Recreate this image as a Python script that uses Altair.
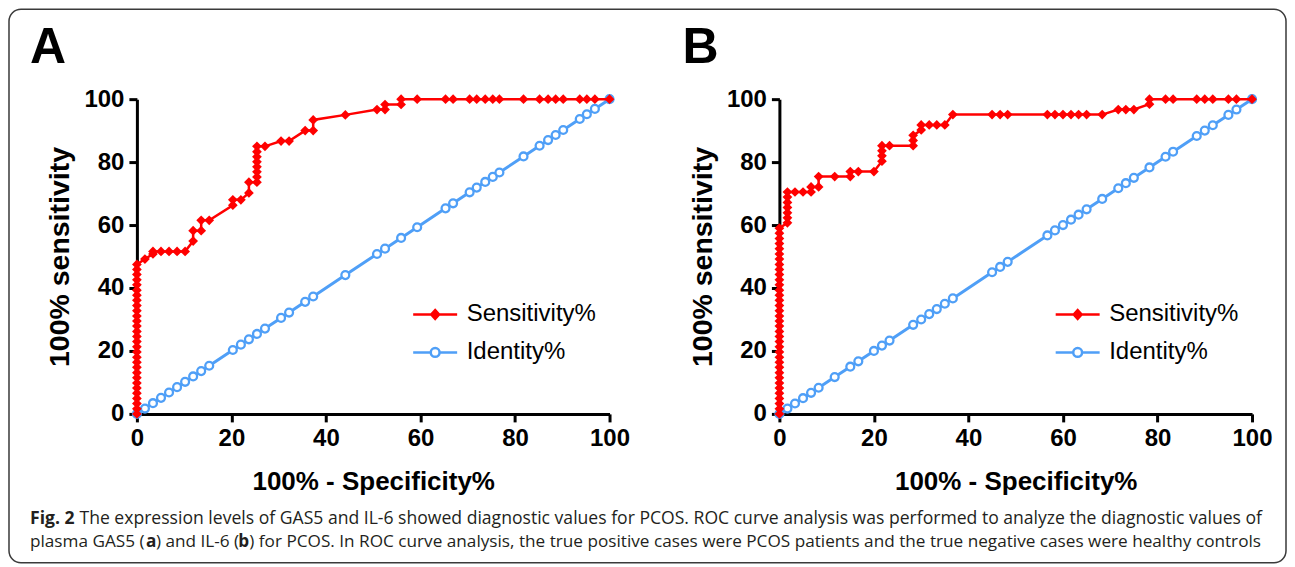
import altair as alt
import pandas as pd

# ---------------- data ----------------
series_names = ["Sensitivity%", "Identity%"]
panel_labels = ["A", "B"]

# Panel A (GAS5): 100% - Specificity%  /  Sensitivity%
a_fpr = [0, 0, 0, 0, 0, 0, 0, 0, 0, 0, 0, 0, 0, 0, 0, 0, 0, 0, 0, 0,
         0, 0, 0, 0, 0, 0, 0, 0, 0, 0,
         1.7, 3.4, 3.4, 5.1, 6.8, 8.5, 10.2, 11.9, 11.9, 13.6, 13.6, 15.3,
         20.3, 20.3, 22.0, 23.7, 23.7, 25.4, 25.4, 25.4, 25.4, 25.4, 25.4, 25.4, 25.4,
         27.1, 30.5, 32.2, 35.6, 37.3, 37.3, 44.1, 50.8, 52.5, 52.5, 55.9, 55.9, 59.3,
         65.3, 66.9, 70.4, 71.9, 73.7, 75.3, 76.7, 81.8, 85.2, 87.0, 88.6, 90.2,
         93.7, 95.2, 96.9, 100]
a_sens = [0, 1.6, 3.3, 4.9, 6.6, 8.2, 9.8, 11.5, 13.1, 14.8, 16.4, 18.0, 19.7, 21.3,
          23.0, 24.6, 26.2, 27.9, 29.5, 31.1, 32.8, 34.4, 36.1, 37.7, 39.3, 41.0,
          42.6, 44.3, 45.9, 47.5,
          49.2, 50.8, 51.6, 51.6, 51.6, 51.6, 51.6, 54.9, 58.2, 58.2, 61.5, 61.5,
          66.3, 68.0, 68.0, 70.2, 73.6, 73.6, 75.3, 76.9, 78.5, 80.1, 81.7, 83.3, 85.0,
          85.0, 86.7, 86.7, 90.0, 90.0, 93.4, 95.0, 96.7, 96.7, 98.3, 98.3, 100, 100,
          100, 100, 100, 100, 100, 100, 100, 100, 100, 100, 100, 100,
          100, 100, 100, 100]

# Panel B (IL-6)
b_fpr = [0, 0, 0, 0, 0, 0, 0, 0, 0, 0, 0, 0, 0, 0, 0, 0, 0, 0, 0, 0,
         0, 0, 0, 0, 0, 0, 0, 0, 0, 0, 0, 0, 0, 0, 0, 0, 0,
         1.7, 1.7, 1.7, 1.7, 1.7, 1.7, 1.7,
         3.3, 5.0, 6.7, 6.7, 8.3, 8.3, 11.7, 15.0, 15.0, 16.7, 20.0,
         21.7, 21.7, 21.7, 21.7, 23.3, 28.3, 28.3, 28.3, 30.0, 30.0, 31.7, 33.3, 35.0,
         36.7, 45.0, 46.7, 48.3, 56.7, 58.3, 60.0, 61.7, 63.3, 65.0, 68.3,
         71.7, 73.3, 75.0, 78.3, 78.3, 81.7, 83.3, 88.3, 90.0, 91.7, 95.0, 96.7, 100]
b_sens = [0, 1.6, 3.3, 4.9, 6.6, 8.2, 9.8, 11.5, 13.1, 14.8, 16.4, 18.0, 19.7, 21.3,
          23.0, 24.6, 26.2, 27.9, 29.5, 31.1, 32.8, 34.4, 36.1, 37.7, 39.3, 41.0,
          42.6, 44.3, 45.9, 47.5, 49.2, 50.8, 52.5, 54.1, 55.7, 57.4, 59.0,
          60.7, 62.3, 63.9, 65.6, 67.2, 68.9, 70.5,
          70.5, 70.5, 70.5, 72.1, 72.1, 75.4, 75.4, 75.4, 77.0, 77.0, 77.0,
          80.3, 82.0, 83.6, 85.2, 85.2, 85.2, 86.9, 88.5, 90.2, 91.8, 91.8, 91.8, 91.8,
          95.1, 95.1, 95.1, 95.1, 95.1, 95.1, 95.1, 95.1, 95.1, 95.1, 95.1,
          96.7, 96.7, 96.7, 98.4, 100, 100, 100, 100, 100, 100, 100, 100, 100]

x_ticks = [0, 20, 40, 60, 80, 100]
y_ticks = [0, 20, 40, 60, 80, 100]

caption_line1 = ["Fig. 2",
                 "The expression levels of GAS5 and IL-6 showed diagnostic values for PCOS. ROC curve analysis was performed to analyze the diagnostic values of"]
caption_line2 = ["plasma GAS5 (", "a", ") and IL-6 (", "b",
                 ") for PCOS. In ROC curve analysis, the true positive cases were PCOS patients and the true negative cases were healthy controls"]

# ---------------- styling ----------------
RED = "#FF0000"
BLUE = "#4F9FF7"
AX_FONT = "Liberation Sans"
CAP_FONT = "Open Sans"
CAP_COLOR = "#231F20"

DIAMOND_LEG = ("M-2,0H2"
               "M0,-0.4L0.36,0L0,0.4L-0.36,0Z"
               "M0,-0.22L0.2,0L0,0.22L-0.2,0Z"
               "M0,-0.06L0.05,0L0,0.06L-0.05,0Z")
CIRCLE_LEG = "M-2,0H-0.4M0.4,0H2M0.4,0A0.4,0.4,0,1,1,-0.4,0A0.4,0.4,0,1,1,0.4,0Z"

# panel A plot origin in page pixels (used to place decoration drawn from panel A)
OX, OY = 137, 98


def make_axis(title, values, title_pad, title_size):
    return alt.Axis(values=values, title=title, grid=False, labelFlush=False,
                    domainWidth=3, domainColor="black",
                    tickWidth=3, tickSize=8, tickColor="black",
                    labelFont=AX_FONT, labelFontWeight="bold", labelFontSize=24,
                    labelColor="black", labelPadding=5,
                    titleFont=AX_FONT, titleFontWeight="bold", titleFontSize=title_size,
                    titleColor="black", titlePadding=title_pad)


def seg(text, px, py, bold, size):
    return alt.Chart(pd.DataFrame({"t": [text]})).mark_text(
        font=CAP_FONT, fontSize=size, fontWeight="bold" if bold else "normal",
        align="left", baseline="middle", color=CAP_COLOR).encode(
        text="t:N", x=alt.value(px - OX), y=alt.value(py - OY))


def decorations():
    frame = alt.Chart(pd.DataFrame({"k": [0]})).mark_rect(
        fill="white", fillOpacity=0, stroke="#3a3a3a", strokeWidth=1.5, cornerRadius=12).encode(
        x=alt.value(9 - OX), x2=alt.value(1287 - OX), y=alt.value(8 - OY), y2=alt.value(562 - OY))
    s1, s2 = 17.6, 17.2
    return [frame,
            seg(caption_line1[0], 30, 518, True, s1),
            seg(caption_line1[1], 79.5, 518, False, s1),
            seg(caption_line2[0], 30, 541, False, s2),
            seg(caption_line2[1], 146, 541, True, s2),
            seg(caption_line2[2], 156, 541, False, s2),
            seg(caption_line2[3], 238.5, 541, True, s2),
            seg(caption_line2[4], 249.5, 541, False, s2)]


def panel(fpr, sens, label, extra):
    n = len(fpr)
    sens_df = pd.DataFrame({"fpr": fpr, "val": sens, "idx": list(range(n))})
    ident_x = sorted(set(fpr))
    ident_df = pd.DataFrame({"fpr": ident_x, "val": ident_x, "idx": list(range(len(ident_x)))})

    x_enc = alt.X("fpr:Q", scale=alt.Scale(domain=[0, 100], nice=False),
                  axis=make_axis("100% - Specificity%", x_ticks, 18, 26))
    y_enc = alt.Y("val:Q", scale=alt.Scale(domain=[0, 100], nice=False),
                  axis=make_axis("100% sensitivity", y_ticks, 9, 28.5))

    ident_line = alt.Chart(ident_df).mark_line(color=BLUE, strokeWidth=3).encode(
        x=x_enc, y=y_enc, order="idx:Q")
    ident_pts = alt.Chart(ident_df).mark_point(
        shape="circle", filled=True, fill="white", stroke=BLUE, strokeWidth=2.3,
        size=62, opacity=1).encode(x=x_enc, y=y_enc)
    sens_line = alt.Chart(sens_df).mark_line(color=RED, strokeWidth=2.5).encode(
        x=x_enc, y=y_enc, order="idx:Q")
    sens_pts = alt.Chart(sens_df).mark_point(
        shape="diamond", filled=True, color=RED, size=95, opacity=1).encode(x=x_enc, y=y_enc)

    letter = alt.Chart(pd.DataFrame({"label": [label]})).mark_text(
        font=AX_FONT, fontWeight="bold", fontSize=50, align="left",
        baseline="alphabetic", color="black").encode(
        text="label:N", x=alt.value(-107 if label == "A" else -97), y=alt.value(-36))

    leg = alt.Legend(orient="none", legendX=286, legendY=203, title=None,
                     labelFont=AX_FONT, labelFontSize=24, labelColor="black",
                     symbolSize=484, symbolStrokeWidth=2.5, labelOffset=19,
                     rowPadding=13, padding=0)
    legend_layer = alt.Chart(pd.DataFrame({"series": series_names})).mark_point(
        filled=True, opacity=0, strokeWidth=2.5).encode(
        shape=alt.Shape("series:N", scale=alt.Scale(domain=series_names,
                                                     range=[DIAMOND_LEG, CIRCLE_LEG]), legend=leg),
        fill=alt.Fill("series:N", scale=alt.Scale(domain=series_names,
                                                   range=[RED, "white"]), legend=leg),
        stroke=alt.Stroke("series:N", scale=alt.Scale(domain=series_names,
                                                       range=[RED, BLUE]), legend=leg),
    )

    return alt.layer(*extra, ident_line, ident_pts, sens_line, sens_pts, letter,
                     legend_layer).properties(width=473, height=315)


pa = panel(a_fpr, a_sens, panel_labels[0], decorations())
pb = panel(b_fpr, b_sens, panel_labels[1], [])

chart = alt.hconcat(pa, pb, spacing=170, bounds="flush").resolve_scale(
    shape="independent", fill="independent", stroke="independent",
    x="independent", y="independent").resolve_legend(
    shape="independent", fill="independent", stroke="independent").configure_view(
    stroke=None).properties(padding=0, background="white")

chart.save("out.html", embed_options={"renderer": "svg", "actions": False})
